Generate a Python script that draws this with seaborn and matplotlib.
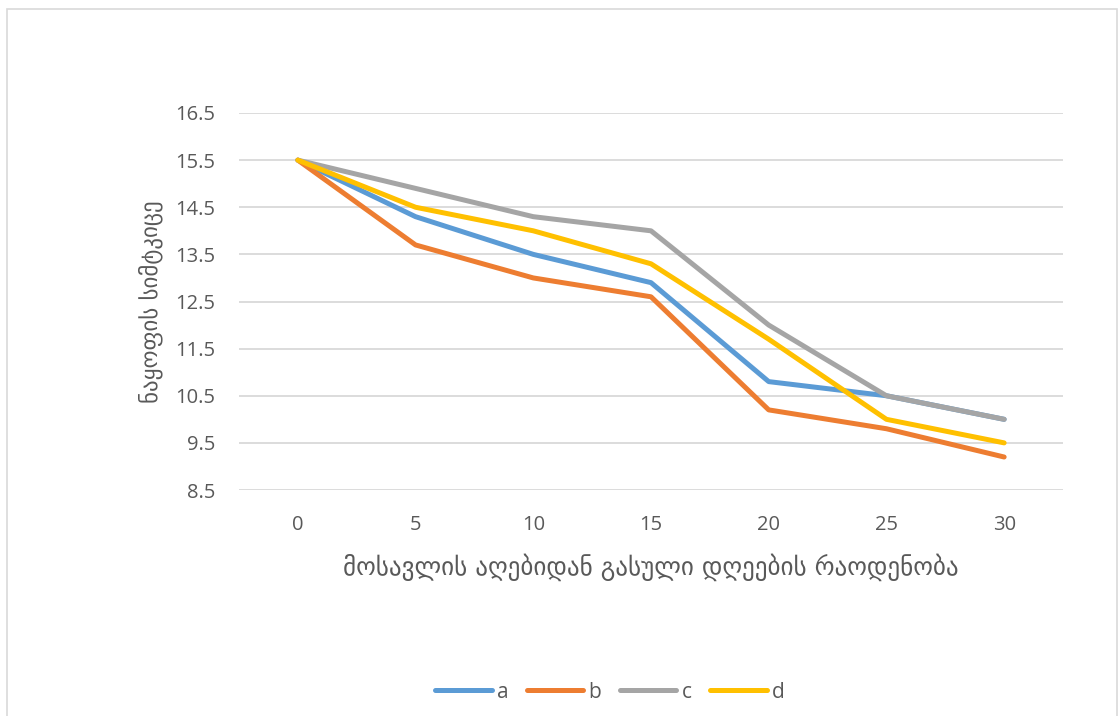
import matplotlib
matplotlib.use("Agg")
import matplotlib.pyplot as plt
import seaborn as sns
import pandas as pd
from matplotlib.patches import Rectangle
from matplotlib.lines import Line2D

days = [0, 5, 10, 15, 20, 25, 30]
a = [15.5, 14.3, 13.5, 12.9, 10.8, 10.5, 10.0]
b = [15.5, 13.7, 13.0, 12.6, 10.2, 9.8, 9.2]
c = [15.5, 14.9, 14.3, 14.0, 12.0, 10.5, 10.0]
d = [15.5, 14.5, 14.0, 13.3, 11.7, 10.0, 9.5]
series_names = ["a", "b", "c", "d"]
yticks = [8.5, 9.5, 10.5, 11.5, 12.5, 13.5, 14.5, 15.5, 16.5]
xlabel = "მოსავლის აღებიდან გასული დღეების რაოდენობა"
ylabel = "ნაყოფის სიმტკიცე"
colors = ["#5B9BD5", "#ED7D31", "#A5A5A5", "#FFC000"]

rows = []
for name, vals in zip(series_names, [a, b, c, d]):
    for x, v in zip(days, vals):
        rows.append({"day": x, "value": v, "series": name})
df = pd.DataFrame(rows)

sns.set_theme(style="white")
plt.rcParams["font.family"] = ["Open Sans", "DejaVu Sans"]

W, H = 1119, 716
fig = plt.figure(figsize=(W / 100, H / 100), dpi=100)
ax = fig.add_axes([239 / W, 1 - 490 / H, (1063 - 239) / W, (490 - 113) / H])

sns.lineplot(data=df, x="day", y="value", hue="series", palette=colors,
             linewidth=3.6, ax=ax, legend=False, sort=False,
             solid_capstyle="round", solid_joinstyle="round")

ax.set_xlim(-2.5, 32.5)
ax.set_ylim(8.5, 16.5)
ax.set_yticks(yticks)
ax.set_yticklabels([f"{t:.1f}" for t in yticks])
ax.set_xticks(days)
ax.set_xticklabels([str(x) for x in days])
ax.grid(axis="y", color="#D9D9D9", linewidth=1.3)
ax.grid(axis="x", visible=False)
for s in ax.spines.values():
    s.set_visible(False)
ax.tick_params(axis="both", length=0, labelsize=14.5, labelcolor="#595959")
ax.tick_params(axis="y", pad=17)
ax.tick_params(axis="x", pad=18)
ax.set_axisbelow(True)

ax.set_xlabel(xlabel, fontsize=18, color="#595959", family=["DejaVu Sans"], labelpad=13)
ax.set_ylabel(ylabel, fontsize=16.5, color="#595959", family=["DejaVu Sans"], labelpad=9)

handles = [Line2D([0], [0], color=col, linewidth=3.6, solid_capstyle="round") for col in colors]
fig.legend(handles, series_names, loc="center", bbox_to_anchor=(610 / W, 1 - 692 / H),
           ncol=4, frameon=False, fontsize=15, handlelength=2.7, columnspacing=0.9,
           handletextpad=0.25, labelcolor="#595959")

fig.patches.append(Rectangle((7 / W, -0.01), (1117 - 7) / W, 1 - 9 / H + 0.01,
                             transform=fig.transFigure, fill=False,
                             edgecolor="#D9D9D9", linewidth=1.2))

fig.savefig("out.png", dpi=100, facecolor="white")
